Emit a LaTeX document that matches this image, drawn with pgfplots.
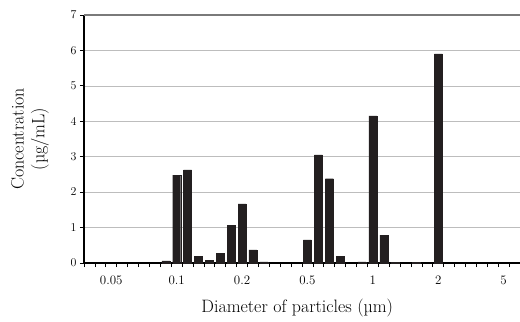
\documentclass[border=0pt]{standalone}
\usepackage{fontspec}
\usepackage{pgfplots}
\pgfplotsset{compat=1.18}
\definecolor{barc}{HTML}{231F20}
\definecolor{gridc}{HTML}{BDBDBD}
\definecolor{topc}{HTML}{7A7A7A}
\begin{document}
\begin{tikzpicture}
\useasboundingbox (0,0) rectangle (520bp,322bp);
\begin{axis}[
  at={(84bp,59bp)}, anchor=south west,
  scale only axis, width=436bp, height=248bp,
  xmin=-0.5, xmax=39.5, ymin=0, ymax=7,
  axis x line=bottom, axis y line=left,
  axis line style={black, line width=1.1pt, -},
  xtick={-0.5,0.5,...,39.5},
  xticklabels={},
  extra x ticks={2,8,14,20,26,32,38},
  extra x tick labels={0.05,0.1,0.2,0.5,1,2,5},
  extra x tick style={tick style={draw=none}},
  major tick length=4bp,
  tick style={black, line width=0.8pt},
  ytick={0,1,...,7},
  tick align=outside,
  ymajorgrids, grid style={gridc, line width=0.7pt},
  ticklabel style={font=\fontsize{13}{13}\selectfont},
  xticklabel style={yshift=-5bp},
  ylabel={Concentration\\(µg/mL)},
  ylabel style={at={(axis description cs:-0.124,0.5)}, anchor=center, align=center, font=\fontsize{18}{21}\selectfont},
  xlabel={Diameter of particles (µm)},
  xlabel style={at={(axis description cs:0.489,-0.181)}, anchor=center, font=\fontsize{18}{21}\selectfont},
  clip=false,
]
\draw[topc, line width=1.2pt] (rel axis cs:0,1) -- (rel axis cs:1,1);
\addplot[ybar, bar width=8bp, fill=barc, draw=barc, line width=0.3pt] coordinates {
(7,0.06) (8,2.48) (9,2.63) (10,0.19) (11,0.08) (12,0.28) (13,1.06) (14,1.67) (15,0.37) (16,0.03)
(20,0.65) (21,3.05) (22,2.38) (23,0.19) (25,0.03) (26,4.15) (27,0.79) (28,0.02) (30,0.02) (32,5.9)
};
\end{axis}
\end{tikzpicture}
\end{document}
